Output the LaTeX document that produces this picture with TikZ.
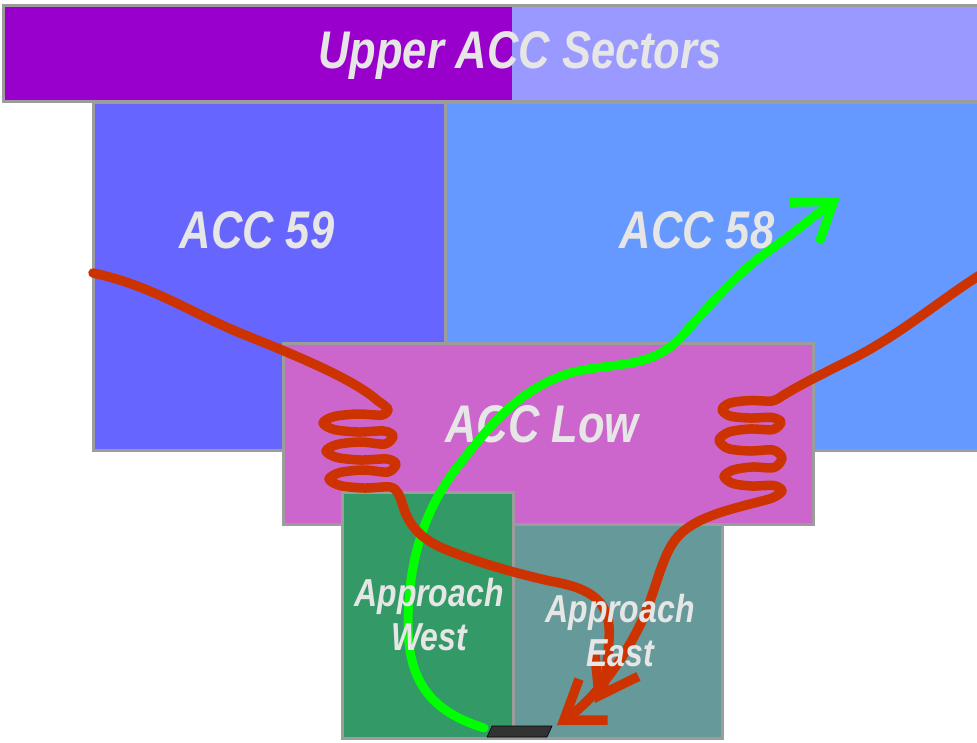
\documentclass[tikz,border=0pt]{standalone}
\usepackage{fontspec}
\newfontfamily\lblfont[FakeStretch=0.82]{Liberation Sans}
\usetikzlibrary{arrows.meta}

\definecolor{upperL}{HTML}{9900CC}
\definecolor{upperR}{HTML}{9999FF}
\definecolor{accA}{HTML}{6666FF}
\definecolor{accB}{HTML}{6699FF}
\definecolor{accLow}{HTML}{CC66CC}
\definecolor{appW}{HTML}{339966}
\definecolor{appE}{HTML}{669999}
\definecolor{edge}{HTML}{9C9C9C}
\definecolor{lbl}{HTML}{E6E6E6}
\definecolor{trackR}{HTML}{CC3300}
\definecolor{trackG}{HTML}{00FF00}
\definecolor{rwy}{HTML}{333333}

\begin{document}
\begin{tikzpicture}[x=1pt,y=-1pt,
  sector/.style={draw=edge, line width=3pt},
  biglbl/.style={text=lbl, inner sep=0pt,
    font=\lblfont\bfseries\itshape\fontsize{53}{60}\selectfont},
  smalllbl/.style={text=lbl, inner sep=0pt, align=center,
    font=\lblfont\bfseries\itshape\fontsize{39}{44}\selectfont},
  redtrack/.style={draw=trackR, line width=9.5pt, line cap=round, line join=round},
  greentrack/.style={draw=trackG, line width=9pt, line cap=round, line join=round},
  barb/.style={-{Straight Barb[length=36pt,width=50pt]}}
]
\useasboundingbox (0,0) rectangle (977,742);
\clip (0,0) rectangle (977,742);
\fill[white] (0,0) rectangle (977,742);

% upper sectors band
\fill[upperL] (3,5) rectangle (512,101);
\fill[upperR] (512,5) rectangle (990,101);
\draw[sector] (3,5) rectangle (990,101);

% ACC 59 and ACC 58
\draw[sector, fill=accA] (93,102) rectangle (445,450);
\draw[sector, fill=accB] (445,102) rectangle (990,450);

% ACC Low
\draw[sector, fill=accLow] (283,343) rectangle (813,524);

% approach sectors
\draw[sector, fill=appE] (513,524) rectangle (722,738);
\draw[sector, fill=appW] (342,492) rectangle (513,738);

% sector labels
\node[biglbl, anchor=base] (upper) at (520,68) {Upper ACC Sectors};
\node[biglbl, anchor=base] (acc59) at (257,248) {ACC 59};
\node[biglbl, anchor=base] (acc58) at (697,248) {ACC 58};
\node[biglbl, anchor=base] (acclow) at (542,442) {ACC Low};

% runway
\coordinate (rwyW) at (484,728);
\coordinate (rwyE) at (557,725);
\draw[fill=rwy, draw=black, line width=0.6pt]
  (487,737) -- (492,726) -- (552,726) -- (547,737) -- cycle;

% departure climbing out to the north-east
\coordinate (depEnd) at (840,197);
\draw[greentrack, barb] (rwyW)
  .. controls (440,714) and (408,690) .. (408,625)
  .. controls (408,560) and (425,510) .. (455,470)
  .. controls (485,432) and (515,390) .. (570,373)
  .. controls (610,362) and (650,370) .. (680,338)
  .. controls (710,305) and (740,270) .. (770,250)
  .. controls (795,232) and (815,215) .. (depEnd);

% arrival from the west: three holding loops, then landing
\coordinate (westIn) at (93,273);
\coordinate (westEnd) at (595,703);
\draw[redtrack, barb] (westIn)
  .. controls (150,285) and (190,312) .. (240,333)
  .. controls (300,357) and (355,380) .. (378,401)
  -- plot[smooth, tension=0.5] coordinates {
    (378,401) (388,409)
    (382,415) (358,414) (334,416.5) (323,423) (334,429.5) (358,432) (384,431) (393,436)
    (385,444) (361,442) (337,444.5) (326,451) (337,457.5) (361,460) (387,459) (396,464)
    (388,472) (364,470) (340,472.5) (329,479) (340,485.5) (364,488) (390,487) (398,493)
    (402,503)}
  .. controls (407,520) and (415,535) .. (440,547)
  .. controls (470,560) and (510,572) .. (550,581)
  .. controls (590,588) and (612,600) .. (609,640)
  .. controls (607,668) and (605,685) .. (westEnd);

% arrival from the east: three holding loops, then landing
\coordinate (eastIn) at (980,275);
\draw[redtrack, barb] (eastIn)
  .. controls (940,300) and (900,335) .. (850,360)
  .. controls (822,374) and (798,386) .. (782,396)
  -- plot[smooth, tension=0.5] coordinates {
    (782,396)
    (772,401) (750,400.5) (730,403) (722,409.5) (730,416) (750,418) (772,417.5) (781,422)
    (773,429.5) (750,429) (729,432) (719,440) (728,448.5) (750,451) (773,450) (782,458)
    (774,467.5) (752,467) (733,470) (724,476.5) (733,483.5) (752,486) (774,485.5) (782,491)
    (772,498) (750,504)}
  .. controls (720,512) and (690,520) .. (675,540)
  .. controls (660,560) and (655,595) .. (640,625)
  .. controls (628,650) and (600,695) .. (rwyE);

% approach labels
\node[smalllbl] (appwest) at (429,615) {Approach\\West};
\node[smalllbl] (appeast) at (620,631) {Approach\\East};
\end{tikzpicture}
\end{document}
